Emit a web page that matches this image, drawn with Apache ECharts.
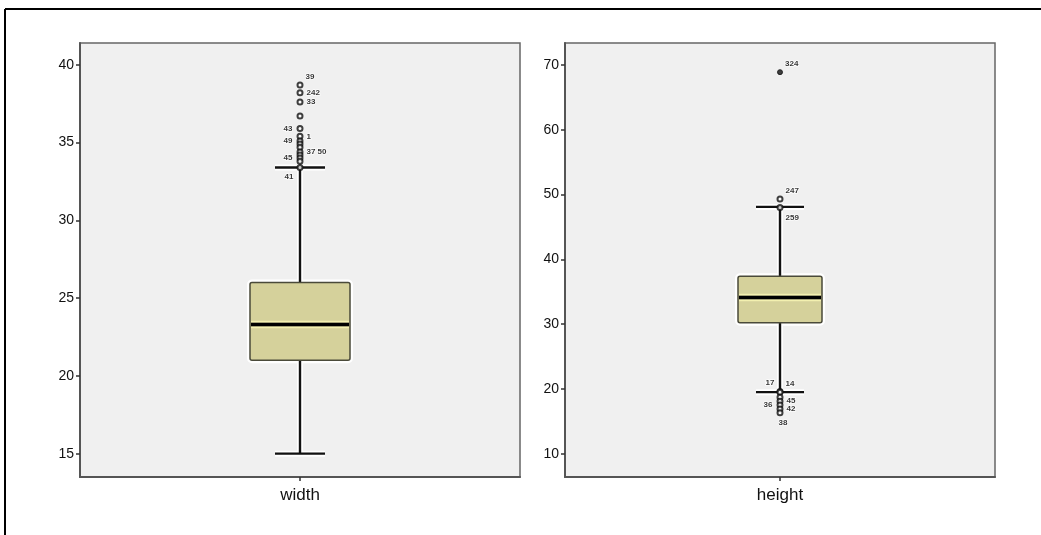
<!DOCTYPE html>
<html>
<head>
<meta charset="utf-8">
<script src="https://cdn.jsdelivr.net/npm/echarts@6/dist/echarts.min.js"></script>
<style>html,body{margin:0;padding:0;background:#fff}#c{width:1041px;height:535px}</style>
</head>
<body>
<div id="c"></div>
<script>
// ---- data ----
const widthCategories = ['width'];
const heightCategories = ['height'];
// [min whisker, Q1, median, Q3, max whisker]
const widthBox = [15.0, 21.0, 23.3, 26.0, 33.4];
const heightBox = [19.5, 30.2, 34.1, 37.4, 48.1];
const widthYTicks = [15, 20, 25, 30, 35, 40];
const heightYTicks = [10, 20, 30, 40, 50, 60, 70];
// outliers: values and case labels
const widthOutliers = [38.7, 38.2, 37.6, 36.7, 35.9, 35.4, 35.1, 34.9, 34.7, 34.4, 34.2, 34.0, 33.8, 33.4];
const widthOutlierIds = ['39', '242', '33', '', '43', '1', '49', '', '', '37 50', '', '45', '', '41'];
const heightOutliers = [49.3, 48.0, 19.6, 19.5, 18.7, 18.1, 17.5, 16.9, 16.3];
const heightOutlierIds = ['247', '259', '14', '17', '', '45', '36', '42', '38'];
const heightExtremes = [68.9];
const heightExtremeIds = ['324'];

// ---- label placement (style only) ----
const widthLabelPos = ['rt', 'r', 'r', 'r', 'l', 'r', 'l', 'r', 'r', 'r', 'r', 'l', 'r', 'lb'];
const heightLabelPos = ['rt', 'rb', 'rt', 'lt', 'r', 'r', 'l', 'r', 'b'];

function labelCfg(p) {
  const m = {
    r: {position: 'right', distance: 3, offset: [0, 0]},
    l: {position: 'left', distance: 4, offset: [0, 0]},
    rt: {position: 'right', distance: 2, offset: [0, -8]},
    rb: {position: 'right', distance: 2, offset: [0, 10]},
    lt: {position: 'left', distance: 2, offset: [0, -9]},
    lb: {position: 'left', distance: 3, offset: [0, 9]},
    b: {position: 'bottom', distance: 2, offset: [3, 0]}
  };
  return m[p];
}

const chart = echarts.init(document.getElementById('c'), null, {renderer: 'canvas'});
const FONT = 'Liberation Sans, Arial, sans-serif';

function makeBoxRenderer(half, capHalf) {
  return function (params, api) {
    const x = api.value(0);
    const lo = api.coord([x, api.value(1)]);
    const q1 = api.coord([x, api.value(2)]);
    const med = api.coord([x, api.value(3)]);
    const q3 = api.coord([x, api.value(4)]);
    const hi = api.coord([x, api.value(5)]);
    const cx = lo[0];
    const lineStyle = {stroke: '#111', lineWidth: 2.4};
    const halo = {stroke: '#ffffff', lineWidth: 6};
    const mk = (x1, y1, x2, y2, st) => ({type: 'line', shape: {x1, y1, x2, y2}, style: st});
    const rectShape = {x: cx - half, y: q3[1], width: half * 2, height: q1[1] - q3[1], r: 2};
    return {
      type: 'group',
      children: [
        mk(cx, hi[1], cx, lo[1], halo),
        mk(cx - capHalf, hi[1], cx + capHalf, hi[1], halo),
        mk(cx - capHalf, lo[1], cx + capHalf, lo[1], halo),
        {type: 'rect', shape: rectShape, style: {fill: 'none', stroke: '#ffffff', lineWidth: 6}},
        mk(cx, hi[1], cx, q3[1], lineStyle),
        mk(cx, q1[1], cx, lo[1], lineStyle),
        mk(cx - capHalf, hi[1], cx + capHalf, hi[1], lineStyle),
        mk(cx - capHalf, lo[1], cx + capHalf, lo[1], lineStyle),
        {type: 'rect', shape: rectShape, style: {fill: '#d5d19b', stroke: '#4a4a3a', lineWidth: 1.5}},
        mk(cx - half + 1, med[1] - 3, cx + half - 1, med[1] - 3, {stroke: '#f3f0b0', lineWidth: 1.5}),
        mk(cx - half + 1, med[1] + 3, cx + half - 1, med[1] + 3, {stroke: '#f3f0b0', lineWidth: 1.5}),
        mk(cx - half + 1, med[1], cx + half - 1, med[1], {stroke: '#000', lineWidth: 3.5})
      ]
    };
  };
}

function yAxis(idx, min, max, ticks) {
  return {
    type: 'value', gridIndex: idx, min: min, max: max,
    interval: ticks[1] - ticks[0],
    axisLine: {show: true, onZero: false, lineStyle: {color: '#555', width: 2}},
    axisTick: {show: true, length: 4, lineStyle: {color: '#333', width: 1.5},
      customValues: ticks},
    axisLabel: {color: '#111', fontSize: 14, fontFamily: FONT, margin: 6, customValues: ticks},
    splitLine: {show: false}
  };
}

function xAxis(idx, cats) {
  return {
    type: 'category', gridIndex: idx, data: cats,
    axisLine: {show: true, lineStyle: {color: '#555', width: 2}},
    axisTick: {show: true, alignWithLabel: true, length: 4, lineStyle: {color: '#333', width: 1.5}},
    axisLabel: {color: '#111', fontSize: 17, fontFamily: FONT, margin: 10}
  };
}

function outlierSeries(xi, yi, cat, vals, ids, pos, symbol, color, bw) {
  return {
    type: 'scatter', xAxisIndex: xi, yAxisIndex: yi, z: 5,
    symbol: symbol, symbolSize: 5,
    itemStyle: {color: color, borderColor: '#111', borderWidth: bw},
    data: vals.map((v, i) => ({
      value: [cat, v],
      label: Object.assign({show: ids[i] !== '', formatter: ids[i], fontSize: 8,
        color: '#000', fontFamily: FONT, fontWeight: 'bold',
        textBorderColor: '#fff', textBorderWidth: 1.5}, labelCfg(pos[i]))
    })),
    animation: false
  };
}

chart.setOption({
  animation: false,
  backgroundColor: '#ffffff',
  grid: [
    {left: 80, top: 43, width: 440, height: 434, show: true, backgroundColor: '#f0f0f0',
      borderColor: '#666', borderWidth: 1.5},
    {left: 565, top: 43, width: 430, height: 434, show: true, backgroundColor: '#f0f0f0',
      borderColor: '#666', borderWidth: 1.5}
  ],
  xAxis: [xAxis(0, widthCategories), xAxis(1, heightCategories)],
  yAxis: [yAxis(0, 13.5, 41.4, widthYTicks), yAxis(1, 6.4, 73.4, heightYTicks)],
  graphic: [
    {type: 'line', shape: {x1: 5, y1: 9, x2: 1041, y2: 9}, style: {stroke: '#000', lineWidth: 2}, z: 100},
    {type: 'line', shape: {x1: 5, y1: 9, x2: 5, y2: 535}, style: {stroke: '#000', lineWidth: 2}, z: 100}
  ],
  series: [
    {type: 'custom', xAxisIndex: 0, yAxisIndex: 0, renderItem: makeBoxRenderer(50, 25),
      data: [[0].concat(widthBox)], z: 3},
    {type: 'custom', xAxisIndex: 1, yAxisIndex: 1, renderItem: makeBoxRenderer(42, 24),
      data: [[0].concat(heightBox)], z: 3},
    outlierSeries(0, 0, widthCategories[0], widthOutliers, widthOutlierIds, widthLabelPos, 'emptyCircle', '#111', 0.8),
    outlierSeries(1, 1, heightCategories[0], heightOutliers, heightOutlierIds, heightLabelPos, 'emptyCircle', '#111', 0.8),
    outlierSeries(1, 1, heightCategories[0], heightExtremes, heightExtremeIds, ['rt'], 'circle', '#111', 1)
  ]
});
</script>
</body>
</html>
